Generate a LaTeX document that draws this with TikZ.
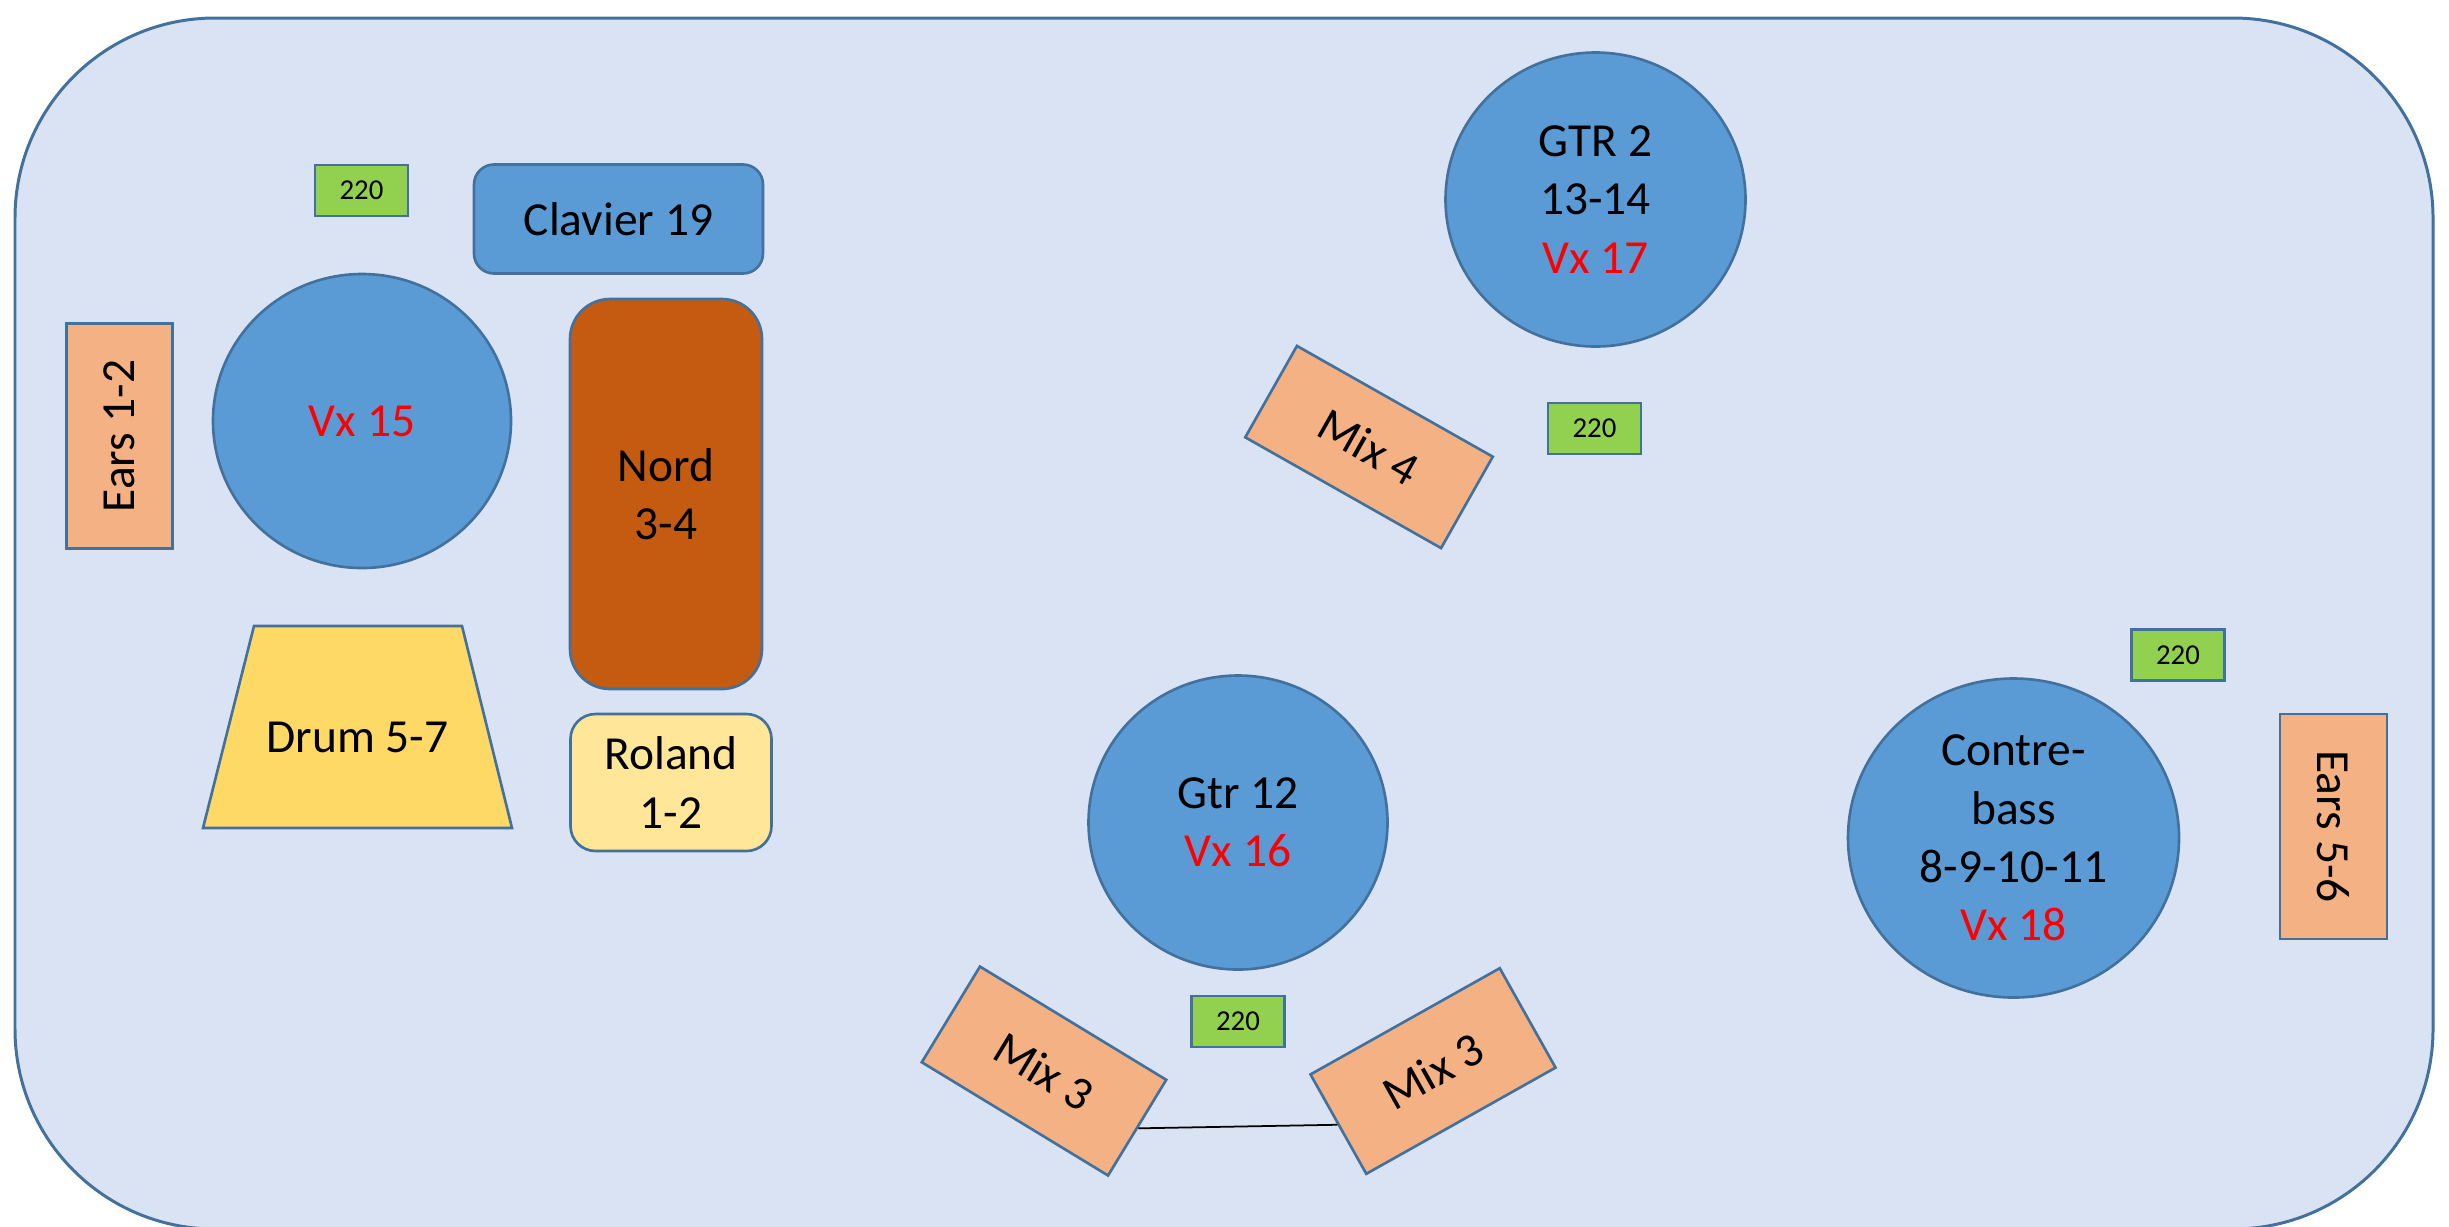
\documentclass[tikz,border=0pt]{standalone}
\usepackage{fontspec}
\setmainfont{Carlito}
\usepackage{tikz}
\usetikzlibrary{shapes.geometric}
\definecolor{stage}{HTML}{DAE3F3}
\definecolor{edge}{HTML}{41719C}
\definecolor{vblue}{HTML}{5B9BD5}
\definecolor{mixorange}{HTML}{F4B183}
\definecolor{nordbrown}{HTML}{C55A11}
\definecolor{drumyellow}{HTML}{FFD966}
\definecolor{rolandyellow}{HTML}{FFE699}
\definecolor{powergreen}{HTML}{92D050}

\begin{document}
\begin{tikzpicture}[line width=0.75pt]
    \tikzstyle{every node}=[font=\fontsize{13.5}{16.6}\selectfont, align=center]
    \tikzstyle{item}=[draw=edge, inner sep=0pt]
    \tikzstyle{singer}=[item, ellipse, fill=vblue]
    \tikzstyle{monitor}=[item, rectangle, fill=mixorange]
    \tikzstyle{keyboard}=[item, rectangle, rounded corners=0.2cm]
    \tikzstyle{power}=[item, fill=powergreen, minimum width=0.93cm, minimum height=0.51cm, font=\fontsize{8.2}{10}\selectfont]

    % Draw the stage
    \useasboundingbox (0,0) rectangle (24.49,-12.26);
    \begin{scope}
        \clip (0,0) rectangle (24.49,-12.26);
        \draw[draw=edge, fill=stage, line width=0.85pt, rounded corners=2cm] (0.15,-0.18) rectangle (24.33,-12.29);
    \end{scope}

    % Drums and keys on the left
    \node[monitor, rotate=90, minimum width=2.25cm, minimum height=1.06cm] (ears-1) at (1.195,-4.36) {Ears 1-2};
    \node[singer, minimum width=2.98cm, minimum height=2.94cm] (vx15) at (3.62,-4.21) {\textcolor{red}{Vx 15}};
    \node[keyboard, fill=vblue, minimum width=2.89cm, minimum height=1.09cm] (clavier) at (6.185,-2.19) {Clavier 19};
    \node[keyboard, fill=nordbrown, rounded corners=0.4cm, minimum width=1.92cm, minimum height=3.90cm] (nord) at (6.66,-4.94) {Nord\\3-4};
    \node[keyboard, fill=rolandyellow, rounded corners=0.25cm, minimum width=2.01cm, minimum height=1.37cm] (roland) at (6.71,-7.825) {Roland\\1-2};
    \draw[draw=edge, fill=drumyellow] (2.54,-6.26) -- (4.62,-6.26) -- (5.12,-8.28) -- (2.03,-8.28) -- cycle;
    \node (drum) at (3.575,-7.37) {Drum 5-7};

    % Guitars
    \node[singer, minimum width=3.0cm, minimum height=2.94cm] (gtr2) at (15.955,-1.995) {GTR 2\\13-14\\\textcolor{red}{Vx 17}};
    \node[monitor, rotate=-29.5, minimum width=2.25cm, minimum height=1.05cm] (mix4) at (13.69,-4.47) {Mix 4};
    \node[singer, minimum width=2.99cm, minimum height=2.94cm] (gtr12) at (12.38,-8.225) {Gtr 12\\\textcolor{red}{Vx 16}};
    \node[monitor, rotate=-31.3, minimum width=2.18cm, minimum height=1.12cm] (mix3-1) at (10.44,-10.71) {Mix 3};
    \node[monitor, rotate=29.3, minimum width=2.17cm, minimum height=1.14cm] (mix3-2) at (14.33,-10.71) {Mix 3};

    % Bass on the right
    \node[singer, minimum width=3.31cm, minimum height=3.19cm] (cb) at (20.135,-8.38) {Contre-\\bass\\8-9-10-11\\\textcolor{red}{Vx 18}};
    \node[monitor, rotate=-90, minimum width=2.25cm, minimum height=1.07cm] (ears-2) at (23.335,-8.265) {Ears 5-6};

    % Power points
    \foreach \name/\x/\y in {1/3.615/-1.905, 2/15.945/-4.285, 3/12.38/-10.215, 4/21.78/-6.55}
        \node[power] (P-\name) at (\x,\y) {220};

    % Link the two Mix 3
    \draw[black, line width=0.5pt] (mix3-1.east) -- (mix3-2.west);
\end{tikzpicture}
\end{document}
